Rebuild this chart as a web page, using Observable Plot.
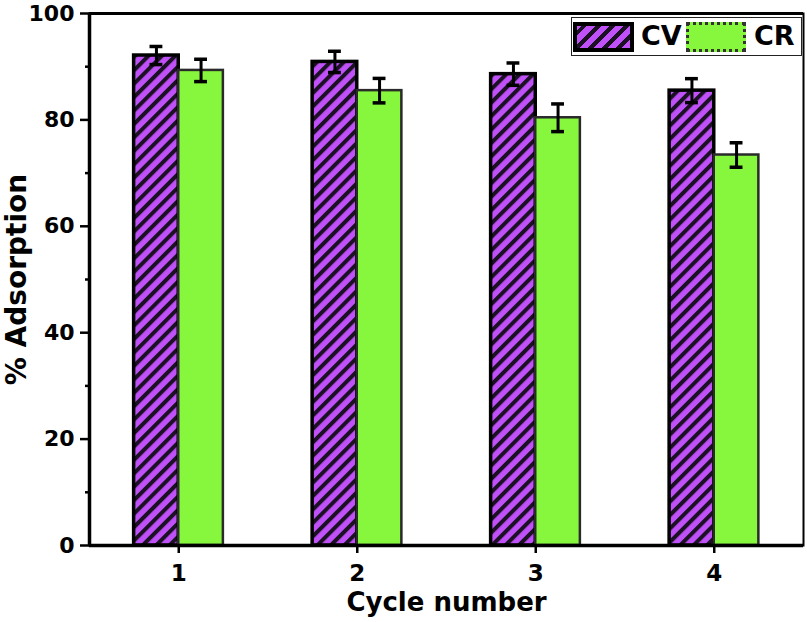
<!DOCTYPE html>
<html>
<head>
<meta charset="utf-8">
<script src="https://cdn.jsdelivr.net/npm/d3@7"></script>
<script src="https://cdn.jsdelivr.net/npm/@observablehq/plot@0.6"></script>
<style>
  body { margin: 0; background: #fff; }
  #wrap { position: relative; width: 807px; height: 622px; font-family: "DejaVu Sans", sans-serif; }
  #legend { position: absolute; left: 571px; top: 17px; width: 231px; height: 39px; border: 1px solid #222; background: #fff; box-sizing: border-box; }
  .sw { position: absolute; top: 4px; height: 30px; box-sizing: border-box; }
  .lab { position: absolute; top: 1px; font-weight: bold; font-size: 27px; line-height: 34px; color: #000; font-family: "DejaVu Sans", sans-serif; }
</style>
</head>
<body>
<div id="wrap"></div>
<script>
const cycles = [1, 2, 3, 4];
const seriesNames = ["CV", "CR"];
const cvValues = [92.1, 90.9, 88.6, 85.5];
const cvErrors = [1.7, 2.0, 2.1, 2.25];
const crValues = [89.3, 85.5, 80.4, 73.4];
const crErrors = [2.1, 2.3, 2.6, 2.3];
const yTicks = [0, 20, 40, 60, 80, 100];
const yMinorTicks = [10, 30, 50, 70, 90];
const purple = "#c050f8";
const stripe = "#1c1024";
const green = "#86f73c";

const data = [];
cycles.forEach((c, i) => {
  data.push({cycle: c, series: "CV", value: cvValues[i], err: cvErrors[i], x1: c - 0.25, x2: c});
  data.push({cycle: c, series: "CR", value: crValues[i], err: crErrors[i], x1: c, x2: c + 0.25});
});
data.forEach(d => { d.mid = (d.x1 + d.x2) / 2; d.lo = d.value - d.err; d.hi = d.value + d.err; });

const chart = Plot.plot({
  width: 807,
  height: 622,
  marginLeft: 89,
  marginRight: 4,
  marginTop: 13,
  marginBottom: 77,
  style: {fontFamily: "'DejaVu Sans', sans-serif", background: "#fff", fontSize: "22px", fontWeight: "bold"},
  x: {domain: [0.5, 4.5], axis: null},
  y: {domain: [0, 100], axis: null},
  marks: [
    Plot.rectY(data, {
      x1: "x1", x2: "x2", y1: 0, y2: "value",
      fill: d => d.series === "CV" ? "url(#cvHatch)" : green,
      stroke: d => d.series === "CV" ? "#000" : "#2a2a2a",
      strokeWidth: d => d.series === "CV" ? 3.5 : 2.5
    }),
    Plot.ruleX(data, {x: "mid", y1: "lo", y2: "hi", stroke: "#000", strokeWidth: 3}),
    Plot.ruleY(data, {y: "hi", x1: d => d.mid - 0.036, x2: d => d.mid + 0.036, stroke: "#000", strokeWidth: 3.5}),
    Plot.ruleY(data, {y: "lo", x1: d => d.mid - 0.036, x2: d => d.mid + 0.036, stroke: "#000", strokeWidth: 3.5}),
    Plot.frame({stroke: "#000", strokeWidth: 2}),
    Plot.ruleY([0], {stroke: "#000", strokeWidth: 3.5}),
    Plot.ruleX([0.5], {stroke: "#000", strokeWidth: 3.5}),
    Plot.ruleY([100], {stroke: "#000", strokeWidth: 3}),
    Plot.axisY({ticks: yTicks, tickSize: 9, tickPadding: 6, strokeWidth: 2.5, label: null,
      fontSize: 22, fontWeight: "bold", fill: "#000", stroke: "#000"}),
    Plot.axisY({ticks: yMinorTicks, tickSize: 4, tickFormat: () => "", strokeWidth: 2.5, label: null, stroke: "#000"}),
    Plot.axisX({ticks: cycles, tickSize: 8, tickPadding: 11, strokeWidth: 2.5, label: null,
      fontSize: 23, fontWeight: "bold", fill: "#000", stroke: "#000", tickFormat: d => String(d)}),
    Plot.text(["Cycle number"], {frameAnchor: "bottom", dy: 65, fontSize: 26, fontWeight: "bold", fill: "#000"}),
    Plot.text(["% Adsorption"], {frameAnchor: "left", dx: -72, rotate: -90, textAnchor: "middle", fontSize: 28, fontWeight: "bold", fill: "#000"})
  ]
});

// make sure tick labels use the intended font
d3.select(chart).selectAll('g[aria-label="y-axis tick label"]')
  .attr("font-size", 22).attr("font-weight", "bold").attr("font-family", "'DejaVu Sans', sans-serif");
d3.select(chart).selectAll('g[aria-label="x-axis tick label"]')
  .attr("font-size", 23).attr("font-weight", "bold").attr("font-family", "'DejaVu Sans', sans-serif");

// hatch pattern definition
const defs = d3.select(chart).insert("defs", ":first-child");
const pat = defs.append("pattern")
  .attr("id", "cvHatch")
  .attr("patternUnits", "userSpaceOnUse")
  .attr("width", 9.5).attr("height", 9.5)
  .attr("patternTransform", "rotate(45)");
pat.append("rect").attr("width", 9.5).attr("height", 9.5).attr("fill", purple);
pat.append("rect").attr("width", 4).attr("height", 9.5).attr("fill", stripe);

const wrap = document.getElementById("wrap");
wrap.appendChild(chart);

const legend = document.createElement("div");
legend.id = "legend";
legend.innerHTML = `
  <div class="sw" style="left:1px;width:61px;border:4px solid #000;background:repeating-linear-gradient(-45deg, ${purple} 0 6px, ${stripe} 6px 10px);"></div>
  <div class="lab" style="left:69px;">${seriesNames[0]}</div>
  <div class="sw" style="left:114px;width:60px;border:3px dotted #333;background:${green};"></div>
  <div class="lab" style="left:182px;">${seriesNames[1]}</div>`;
wrap.appendChild(legend);
</script>
</body>
</html>
